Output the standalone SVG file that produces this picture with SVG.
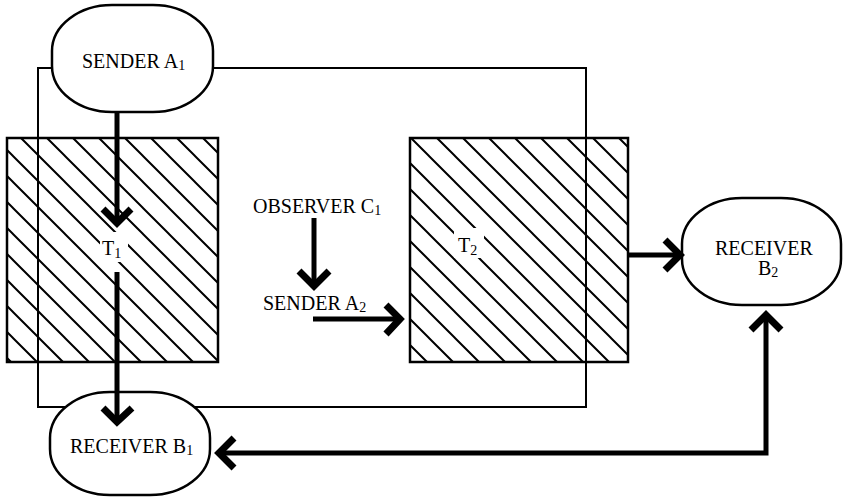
<svg xmlns="http://www.w3.org/2000/svg" width="845" height="501" viewBox="0 0 845 501">
<style>
.t{font-family:"Liberation Serif","Times New Roman",serif;font-size:20px;fill:#000}
.s{font-size:14px}
.node{fill:#fff;stroke:#000;stroke-width:2.5}
.box{fill:url(#hatch);stroke:#000;stroke-width:2.5}
.frame{fill:none;stroke:#000;stroke-width:2}
.shaft{fill:none;stroke:#000;stroke-width:5}
.head{fill:none;stroke:#000;stroke-width:7;stroke-linejoin:miter;stroke-linecap:butt}
</style>
<defs>
<pattern id="hatch" patternUnits="userSpaceOnUse" x="13" y="0" width="26" height="26">
<rect width="26" height="26" fill="#fff"/>
<path d="M-2,-2 L28,28 M-2,24 L2,28 M24,-2 L28,2" stroke="#000" stroke-width="2"/>
</pattern>
</defs>
<g id="T1box"><rect class="box" x="7" y="138" width="211" height="224"/></g>
<g id="T2box"><rect class="box" x="410" y="138" width="218" height="224"/></g>
<g id="frame"><rect class="frame" x="38" y="68" width="548" height="339"/></g>
<g id="T1"><rect x="100" y="232" width="28" height="30" fill="#fff"/><text class="t" x="102" y="255">T<tspan class="s" dy="3">1</tspan></text></g>
<g id="T2"><rect x="454" y="228" width="30" height="30" fill="#fff"/><text class="t" x="458" y="252">T<tspan class="s" dy="3">2</tspan></text></g>
<g id="senderA1"><rect class="node" x="52" y="5" width="161" height="107" rx="60" ry="46"/><text class="t" x="82" y="68">SENDER A<tspan class="s" dy="2">1</tspan></text></g>
<g id="receiverB1"><rect class="node" x="50" y="392" width="160" height="103" rx="60" ry="46"/><text class="t" x="70" y="453">RECEIVER B<tspan class="s" dy="2">1</tspan></text></g>
<g id="receiverB2"><rect class="node" x="682" y="198" width="159" height="107" rx="60" ry="46"/><text class="t" x="715" y="255">RECEIVER</text><text class="t" x="758" y="275">B<tspan class="s" dy="2">2</tspan></text></g>
<g id="observerC1"><text class="t" x="253" y="213">OBSERVER C<tspan class="s" dy="2">1</tspan></text></g>
<g id="senderA2"><text class="t" x="263" y="310">SENDER A<tspan class="s" dy="2">2</tspan></text></g>
<g id="connectors">
<line class="shaft" x1="117" y1="112" x2="117" y2="220"/>
<path class="head" d="M103,209 L117,223 L131,209"/>
<line class="shaft" x1="117" y1="272" x2="117" y2="420"/>
<path class="head" d="M103,408 L117,422 L132,408"/>
<line class="shaft" x1="314" y1="218" x2="314" y2="282"/>
<path class="head" d="M299,271 L314,286 L329,271"/>
<line class="shaft" x1="313" y1="319" x2="398" y2="319"/>
<path class="head" d="M386,305 L400,319 L386,334"/>
<line class="shaft" x1="628" y1="255" x2="678" y2="255"/>
<path class="head" d="M665,240 L680,255 L665,270"/>
<path class="shaft" d="M766,316 L766,453 L221,453"/>
<path class="head" d="M751,330 L766,315 L781,330"/>
<path class="head" d="M234,438 L219,453 L234,468"/>
</g>
</svg>
